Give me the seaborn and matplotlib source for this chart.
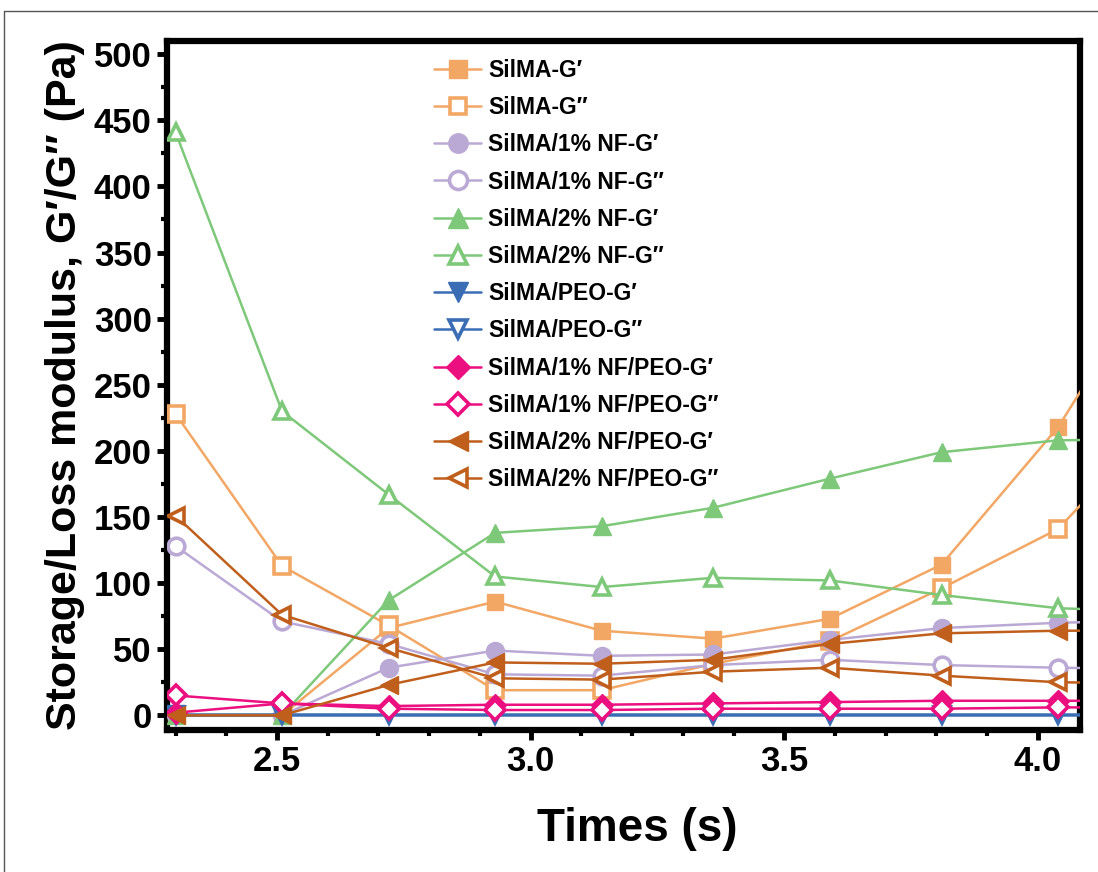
import numpy as np
import pandas as pd
import seaborn as sns
from matplotlib import pyplot as plt
from matplotlib.lines import Line2D
from matplotlib.ticker import MultipleLocator

# time points (last one lies beyond the visible x range)
times = [2.30, 2.51, 2.72, 2.93, 3.14, 3.36, 3.59, 3.81, 4.04, 4.27]

silma_g1 = [0, 0, 66, 86, 64, 58, 73, 114, 218, 359]
silma_g2 = [228, 113, 68, 19, 19, 39, 56, 96, 141, 235]
nf1_g1 = [0, 0, 36, 49, 45, 46, 57, 66, 70, 72]
nf1_g2 = [128, 71, 54, 31, 30, 38, 42, 38, 36, 35]
nf2_g1 = [0, 0, 87, 138, 143, 157, 179, 199, 208, 209]
nf2_g2 = [441, 230, 167, 105, 97, 104, 102, 91, 81, 78]
peo_g1 = [1, 1, 1, 1, 1, 1, 1, 1, 1, 1]
peo_g2 = [0, 0, 0, 0, 0, 0, 0, 0, 0, 0]
nf1peo_g1 = [2, 9, 7, 8, 8, 9, 10, 11, 11, 11]
nf1peo_g2 = [15, 9, 5, 4, 4, 5, 5, 5, 6, 6]
nf2peo_g1 = [0, 0, 23, 40, 39, 42, 54, 62, 64, 64]
nf2peo_g2 = [151, 76, 51, 28, 27, 33, 36, 30, 25, 24]

labels = ['SilMA-G′', 'SilMA-G″', 'SilMA/1% NF-G′', 'SilMA/1% NF-G″',
          'SilMA/2% NF-G′', 'SilMA/2% NF-G″', 'SilMA/PEO-G′', 'SilMA/PEO-G″',
          'SilMA/1% NF/PEO-G′', 'SilMA/1% NF/PEO-G″',
          'SilMA/2% NF/PEO-G′', 'SilMA/2% NF/PEO-G″']
series = [silma_g1, silma_g2, nf1_g1, nf1_g2, nf2_g1, nf2_g2,
          peo_g1, peo_g2, nf1peo_g1, nf1peo_g2, nf2peo_g1, nf2peo_g2]

colors = ['#F2A765', '#F2A765', '#BBA9D5', '#BBA9D5', '#7EC87A', '#7EC87A',
          '#3A6DB4', '#3A6DB4', '#EC0F80', '#EC0F80', '#C05F1C', '#C05F1C']
markers = ['s', 's', 'o', 'o', '^', '^', 'v', 'v', 'D', 'D', '<', '<']
sizes = [12, 11, 13, 12, 13, 12, 13, 12, 11, 10, 13, 12]

sns.set_style('ticks', {'axes.edgecolor': 'black', 'text.color': 'black',
                        'axes.labelcolor': 'black', 'xtick.color': 'black',
                        'ytick.color': 'black'})
plt.rcParams['font.family'] = ['Liberation Sans', 'DejaVu Sans']
plt.rcParams['font.weight'] = 'bold'

fig = plt.figure(figsize=(10.98, 8.72), dpi=100)
ax = fig.add_axes([0.152, 0.163, 0.8316, 0.790])

handles = []
for i, (lab, vals) in enumerate(zip(labels, series)):
    hollow = i % 2 == 1
    face = 'white' if hollow else colors[i]
    df = pd.DataFrame({'t': times, 'v': vals})
    sns.lineplot(data=df, x='t', y='v', ax=ax, color=colors[i], lw=1.8,
                 marker=markers[i], markersize=sizes[i], markerfacecolor=face,
                 markeredgecolor=colors[i], markeredgewidth=2.6 if hollow else 1,
                 sort=False, legend=False, zorder=3 + i)
    handles.append(Line2D([], [], color=colors[i], lw=1.8, marker=markers[i],
                          markersize=sizes[i] + 1, markerfacecolor=face,
                          markeredgecolor=colors[i],
                          markeredgewidth=2.6 if hollow else 1, label=lab))

ax.set_xlim(2.283, 4.083)
ax.set_ylim(-11, 510)
ax.xaxis.set_major_locator(MultipleLocator(0.5))
ax.xaxis.set_minor_locator(MultipleLocator(0.1))
ax.yaxis.set_major_locator(MultipleLocator(50))
ax.yaxis.set_minor_locator(MultipleLocator(25))
ax.tick_params(which='major', direction='out', length=7, width=3.5,
               labelsize=25, pad=4, color='black', labelcolor='black')
ax.tick_params(which='minor', direction='out', length=4, width=3, color='black')
for lbl in ax.get_xticklabels() + ax.get_yticklabels():
    lbl.set_fontweight('bold')
for sp in ax.spines.values():
    sp.set_linewidth(4.5)
    sp.set_color('black')
    sp.set_visible(True)

ax.set_xlabel('Times (s)', fontsize=33, fontweight='bold', color='black')
ax.xaxis.set_label_coords(0.515, -0.112)
ax.set_ylabel('Storage/Loss modulus, G′/G″ (Pa)', fontsize=31,
              fontweight='bold', labelpad=6, color='black')

leg = ax.legend(handles=handles, loc='upper left', bbox_to_anchor=(0.293, 0.974),
                frameon=False, borderpad=0, borderaxespad=0,
                labelspacing=0.62, handlelength=2.05, handletextpad=0.3,
                prop={'weight': 'bold', 'size': 16.5})
for t in leg.get_texts():
    t.set_color('black')

# thin frame line at the left and top of the figure
fig.add_artist(Line2D([0.004, 0.004], [0, 0.987], transform=fig.transFigure,
                      color='#555555', lw=1))
fig.add_artist(Line2D([0.004, 1], [0.987, 0.987], transform=fig.transFigure,
                      color='#555555', lw=1))

fig.savefig('out.png', dpi=100)
